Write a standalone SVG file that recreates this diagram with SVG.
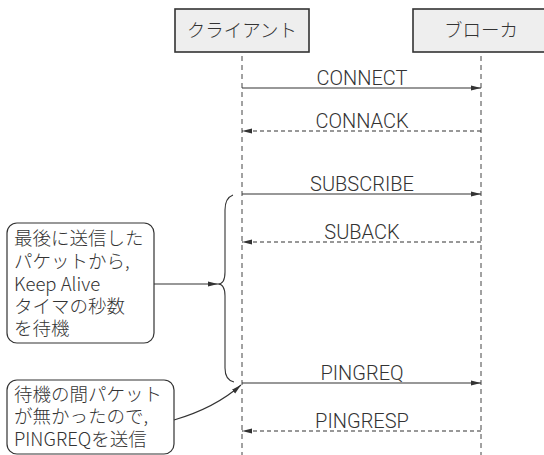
<svg xmlns="http://www.w3.org/2000/svg" width="544" height="455" viewBox="0 0 544 455">
<defs>
<style>
.hdr{fill:#eeeeee;stroke:#333;stroke-width:1.6}
.life{stroke:#444;stroke-width:1;stroke-dasharray:5,4;fill:none}
.msg{stroke:#333;stroke-width:1.1;fill:none}
.dash{stroke-dasharray:4,3}
.note{fill:#fff;stroke:#333;stroke-width:1.2}
.t{font-family:"Noto Sans CJK JP","Liberation Sans",sans-serif;font-weight:300;fill:#333;font-size:18.5px}
.lbl{font-family:Roboto,"Liberation Sans",sans-serif;font-weight:300;fill:#333;font-size:20px;text-anchor:middle}
.nt{font-family:"Noto Sans CJK JP","Liberation Sans",sans-serif;font-weight:300;fill:#333;font-size:18.5px}
</style>
<marker id="ah" markerWidth="10" markerHeight="8" refX="10" refY="4" orient="auto" markerUnits="userSpaceOnUse">
<path d="M0,1.5 L10,4 L0,6.5 Z" fill="#333"/>
</marker>
</defs>
<g id="client">
<rect class="hdr" x="175" y="9" width="134" height="43"/>
<text class="t" x="242" y="37" text-anchor="middle">クライアント</text>
</g>
<g id="broker">
<rect class="hdr" x="413" y="9" width="140" height="43"/>
<text class="t" x="481" y="37" text-anchor="middle">ブローカ</text>
</g>
<g id="note1">
<rect class="note" x="7" y="223" width="147" height="120" rx="10"/>
<text class="nt" x="14" y="245">最後に送信した</text>
<text class="nt" x="14" y="268">パケットから,</text>
<text class="nt" x="14" y="291">Keep Alive</text>
<text class="nt" x="14" y="313">タイマの秒数</text>
<text class="nt" x="14" y="335">を待機</text>
</g>
<g id="note2">
<rect class="note" x="7" y="380" width="167" height="74" rx="10"/>
<text class="nt" x="14" y="401">待機の間パケット</text>
<text class="nt" x="14" y="423">が無かったので,</text>
<text class="nt" x="14" y="446">PINGREQを送信</text>
</g>
<g id="connectors">
<line class="life" x1="242" y1="56" x2="242" y2="455"/>
<line class="life" x1="481" y1="56" x2="481" y2="455"/>
<line class="msg" x1="242" y1="88" x2="481" y2="88" marker-end="url(#ah)"/>
<text class="lbl" x="362" y="85">CONNECT</text>
<line class="msg dash" x1="481" y1="131" x2="242" y2="131" marker-end="url(#ah)"/>
<text class="lbl" x="362" y="128">CONNACK</text>
<line class="msg" x1="242" y1="194" x2="481" y2="194" marker-end="url(#ah)"/>
<text class="lbl" x="362" y="191">SUBSCRIBE</text>
<line class="msg dash" x1="481" y1="242" x2="242" y2="242" marker-end="url(#ah)"/>
<text class="lbl" x="362" y="239">SUBACK</text>
<line class="msg" x1="242" y1="383" x2="481" y2="383" marker-end="url(#ah)"/>
<text class="lbl" x="362" y="380">PINGREQ</text>
<line class="msg dash" x1="481" y1="431" x2="242" y2="431" marker-end="url(#ah)"/>
<text class="lbl" x="362" y="428">PINGRESP</text>
<path class="msg" d="M233,195 Q225,198 225,210 L225,272 Q225,284 218,284 Q225,284 225,296 L225,368 Q225,380 234,382"/>
<line class="msg" x1="154" y1="284" x2="218" y2="284" marker-end="url(#ah)"/>
<path class="msg" d="M174,420 Q215,408 241,385" marker-end="url(#ah)"/>
</g>
</svg>
